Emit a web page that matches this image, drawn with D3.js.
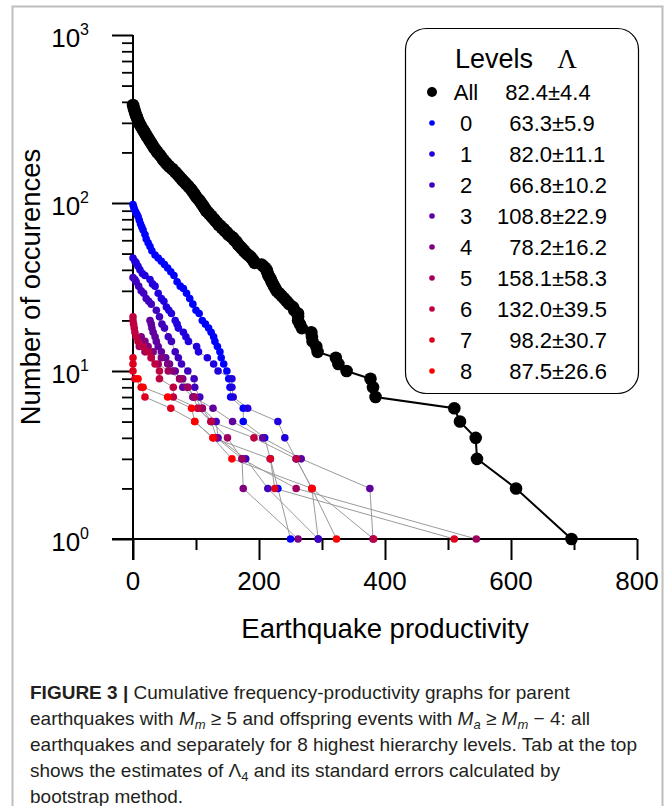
<!DOCTYPE html>
<html>
<head>
<meta charset="utf-8">
<script src="https://cdn.jsdelivr.net/npm/d3@7"></script>
<style>
  body { margin: 0; background: #fff; }
  svg text { font-family: "Liberation Sans", Arial, sans-serif; }
</style>
</head>
<body>
<svg width="671" height="806"></svg>
<script>
// ---- data ----
// "All" earthquakes: [productivity, cumulative count]
var allPoints = [[0,383],[1,370],[2,360],[3,350],[4,340],[5,332],[6,325],[7,317],[8,310],[9,304],[10,298],
  [11,293],[13,285],[14,280],[16,272],[17,268],[19,261],[20,257],[22,250],[23,246],[25,240],[26,236],
  [28,230],[30,224],[32,218],[34,212],[36,207],[38,202],[40,198],[42,194],[44,190],[46,185],[48,181],
  [50,177],[52,174],[54,170],[57,166],[59,163],[62,160],[64,157],[67,153],[69,150],[72,146],[74,143],
  [77,139],[79,136],[82,133],[84,130],[87,127],[89,124],[92,121],[94,118],[97,114],[99,111],[101,108],
  [104,105],[106,103],[108,100],[110,98],[112,95],[114,93],[116,90],[119,88],[121,86],[124,84],[126,82],
  [129,80],[131,78],[134,76],[136,74],[139,73],[141,71],[144,70],[146,68],[149,67],[151,65],[154,64],
  [156,63],[159,62],[161,60],[164,59],[166,57],[168,56],[170,55],[172,54],[174,53],[176,52],[178,51],
  [180,50],[183,49],[186,48],[188,47],[190,46],[192,45],[193,44],[204,43],[207,42],[210,41],[212,40],
  [213,39],[214,38],[215,37],[217,36],[219,35],[220,34],[222,33],[224,32],[226,31],[228,30],[232,29],
  [236,28],[240,27],[244,26],[248,25],[254,24],[256,23],[262,22],[262,21],[262,20],[265,19],[268,18],
  [283,17],[284,16],[285,15],[291,14],[293,13],[322,12],[326,11],[339,10],[377,9],[381,8],[385,7],
  [510,6],[519,5],[544,4],[546,3],[608,2],[696,1]];

// hierarchy levels 0..8: [productivity, cumulative count]
var level0 = [[0,98],[1,95],[2,92],[4,89],[6,86],[8,83],[10,79],[12,75],[14,72],[16,69],[19,65],[21,61],
  [24,58],[27,55],[30,52],[35,49],[40,47],[45,45],[50,43],[55,41],[60,39],[65,37],[70,34],[75,32],[80,31],
  [85,29],[90,27],[95,25],[100,23],[105,22],[110,20],[115,19],[120,18],[124,17],[128,16],[130,15],[134,14],
  [138,13],[140,12],[144,11],[149,10],[152,9],[154,8],[155,7],[175,6],[175,5],[209,4],[218,3],[230,2],[250,1]];
var level1 = [[0,47],[3,45],[5,44],[8,42],[11,40],[15,38],[19,37],[27,35],[31,33],[35,32],[40,29],[45,27],
  [49,26],[53,24],[57,23],[61,22],[67,20],[70,19],[72,18],[80,17],[84,16],[88,15],[101,14],[104,13],
  [118,12],[128,11],[135,10],[157,9],[157,8],[159,7],[182,6],[230,5],[241,4],[259,3],[284,2],[294,1]];
var level2 = [[0,36],[3,35],[5,34],[9,32],[13,30],[17,29],[21,27],[25,26],[29,25],[37,23],[42,21],[46,19],
  [50,18],[56,16],[61,15],[67,13],[72,12],[77,11],[87,10],[97,9],[98,8],[106,7],[110,6],[132,5],[135,4],
  [179,3],[214,2],[294,1]];
var level3 = [[27,20],[29,19],[30,18],[32,17],[35,16],[37,15],[40,14],[45,13],[52,12],[58,11],[67,10],
  [74,9],[79,8],[95,7],[127,6],[158,5],[206,4],[267,3],[376,2],[381,1]];
var level4 = [[13,16],[19,15],[24,14],[32,13],[45,12],[55,11],[63,10],[79,9],[87,8],[96,7],[103,6],
  [124,5],[133,4],[173,3],[175,2],[262,1]];
var level5 = [[10,14],[19,13],[29,12],[40,11],[56,10],[74,9],[87,8],[98,7],[110,6],[124,5],[150,4],
  [173,3],[259,2],[545,1]];
var level6 = [[0,21],[0,20],[1,19],[2,18],[3,17],[5,16],[8,15],[16,14],[24,13],[29,12],[35,11],[42,10],
  [42,9],[64,8],[64,7],[103,6],[124,5],[192,4],[259,3],[284,2],[382,1]];
var level7 = [[0,12],[0,11],[0,10],[3,9],[13,8],[19,7],[60,6],[98,5],[127,4],[218,3],[225,2],[510,1]];
var level8 = [[8,9],[16,8],[55,7],[93,6],[98,5],[127,4],[157,3],[284,2],[323,1]];

var levels = [level0, level1, level2, level3, level4, level5, level6, level7, level8];
var levelNames = ["0", "1", "2", "3", "4", "5", "6", "7", "8"];
var levelColors = ["#0000ff", "#2000df", "#4000bf", "#60009f", "#800080", "#9f0060", "#bf0040", "#df0020", "#ff0000"];

// legend table: Lambda estimates and bootstrap errors
var lambdaAll = 82.4, errAll = 4.4;
var lambdaVals = [63.3, 82.0, 66.8, 108.8, 78.2, 158.1, 132.0, 98.2, 87.5];
var lambdaErrs = [5.9, 11.1, 10.2, 22.9, 16.2, 58.3, 39.5, 30.7, 26.6];

var xTicks = [0, 200, 400, 600, 800];
var xMinorTicks = [100, 300, 500, 700];
var yTicks = [1, 10, 100, 1000];

// ---- layout ----
var svg = d3.select("svg");

var x = d3.scaleLinear().domain([0, 800]).range([133, 637]);
var y = d3.scaleLog().domain([1, 1000]).range([539, 35]);

var majorLen = 21, minorLen = 11;

// figure frame
svg.append("path")
   .attr("d", "M12.5,806 V6.5 H662.5 V806")
   .attr("fill", "none")
   .attr("stroke", "#bdbdbd")
   .attr("stroke-width", 2);

// x axis
var gx = svg.append("g").attr("transform", "translate(0," + y(1) + ")");
gx.call(d3.axisBottom(x).tickValues(xTicks).tickSize(majorLen).tickSizeOuter(0).tickFormat(""));
gx.select(".domain").remove();
gx.selectAll("line").attr("stroke", "black").attr("stroke-width", 2);
var gxm = svg.append("g").attr("transform", "translate(0," + y(1) + ")");
gxm.call(d3.axisBottom(x).tickValues(xMinorTicks).tickSize(minorLen).tickFormat(""));
gxm.select(".domain").remove();
gxm.selectAll("line").attr("stroke", "black").attr("stroke-width", 2);

svg.append("line")
   .attr("x1", x(0) - majorLen).attr("x2", x(800))
   .attr("y1", y(1)).attr("y2", y(1))
   .attr("stroke", "black").attr("stroke-width", 2);

svg.selectAll(".xlab")
   .data(xTicks)
   .enter().append("text")
   .attr("class", "xlab")
   .attr("x", function(d) { return x(d); })
   .attr("y", y(1) + 51)
   .attr("text-anchor", "middle")
   .style("font-size", "26px")
   .text(function(d) { return d; });

svg.append("text")
   .attr("x", (x(0) + x(800)) / 2)
   .attr("y", 638)
   .attr("text-anchor", "middle")
   .style("font-size", "27.5px")
   .text("Earthquake productivity");

// y axis
var yMinor = [];
[1, 10, 100].forEach(function(dec) {
    for (var k = 2; k <= 9; k++) yMinor.push(dec * k);
});

var gy = svg.append("g").attr("transform", "translate(" + x(0) + ",0)");
gy.call(d3.axisLeft(y).tickValues(yTicks).tickSize(majorLen).tickFormat(""));
gy.select(".domain").remove();
gy.selectAll("line").attr("stroke", "black").attr("stroke-width", 2);
var gym = svg.append("g").attr("transform", "translate(" + x(0) + ",0)");
gym.call(d3.axisLeft(y).tickValues(yMinor).tickSize(minorLen).tickFormat(""));
gym.select(".domain").remove();
gym.selectAll("line").attr("stroke", "black").attr("stroke-width", 1.8);

svg.append("line")
   .attr("x1", x(0)).attr("x2", x(0))
   .attr("y1", y(1000)).attr("y2", y(1) + majorLen)
   .attr("stroke", "black").attr("stroke-width", 2);

var ylab = svg.selectAll(".ylab")
   .data(yTicks)
   .enter().append("text")
   .attr("class", "ylab")
   .attr("x", 89)
   .attr("y", function(d) { return y(d) + 12; })
   .attr("text-anchor", "end")
   .style("font-size", "26px");
ylab.append("tspan").text("10");
ylab.append("tspan")
    .attr("dy", -12)
    .style("font-size", "16px")
    .text(function(d) { return Math.round(Math.log10(d)); });

svg.append("text")
   .attr("transform", "translate(40," + ((y(1) + y(1000)) / 2) + ") rotate(-90)")
   .attr("text-anchor", "middle")
   .style("font-size", "27.5px")
   .text("Number of occurences");

// hierarchy level curves: thin grey connectors, then coloured markers
var line = d3.line()
    .x(function(d) { return x(d[0]); })
    .y(function(d) { return y(d[1]); });

levels.forEach(function(pts) {
    svg.append("path")
       .datum(pts)
       .attr("d", line)
       .attr("fill", "none")
       .attr("stroke", "#9a9a9a")
       .attr("stroke-width", 1);
});
levels.forEach(function(pts, i) {
    svg.selectAll(".lv" + i)
       .data(pts)
       .enter().append("circle")
       .attr("class", "lv" + i)
       .attr("cx", function(d) { return x(d[0]); })
       .attr("cy", function(d) { return y(d[1]); })
       .attr("r", 3.8)
       .attr("fill", levelColors[i]);
});

// all earthquakes
svg.append("path")
   .datum(allPoints)
   .attr("d", line)
   .attr("fill", "none")
   .attr("stroke", "black")
   .attr("stroke-width", 2);
svg.selectAll(".allpt")
   .data(allPoints)
   .enter().append("circle")
   .attr("class", "allpt")
   .attr("cx", function(d) { return x(d[0]); })
   .attr("cy", function(d) { return y(d[1]); })
   .attr("r", 6.3)
   .attr("fill", "black");

// legend
var lg = svg.append("g");
lg.append("rect")
  .attr("x", 405.5).attr("y", 28.5)
  .attr("width", 233).attr("height", 365)
  .attr("rx", 21)
  .attr("fill", "white")
  .attr("stroke", "black")
  .attr("stroke-width", 1.2);
lg.append("text")
  .attr("x", 455).attr("y", 68)
  .style("font-size", "27px")
  .text("Levels");
lg.append("text")
  .attr("x", 567).attr("y", 68)
  .attr("text-anchor", "middle")
  .style("font-family", "'Liberation Serif', serif")
  .style("font-size", "27px")
  .text("\u039B");

var rowY = function(i) { return 92 + 31 * i; };
var rows = [{ name: "All", val: lambdaAll, err: errAll, color: "black", r: 5, pm: 548 }];
levelNames.forEach(function(n, i) {
    rows.push({ name: n, val: lambdaVals[i], err: lambdaErrs[i], color: levelColors[i], r: 2.8, pm: 552 });
});

var row = lg.selectAll(".lrow")
   .data(rows)
   .enter().append("g")
   .attr("class", "lrow")
   .attr("transform", function(d, i) { return "translate(0," + rowY(i) + ")"; });
row.append("circle")
   .attr("cx", 432).attr("cy", 0)
   .attr("r", function(d) { return d.r; })
   .attr("fill", function(d) { return d.color; });
row.append("text")
   .attr("x", 466).attr("y", 8)
   .attr("text-anchor", "middle")
   .style("font-size", "22px")
   .text(function(d) { return d.name; });
row.append("text")
   .attr("x", function(d) { return d.pm; }).attr("y", 8)
   .attr("text-anchor", "end")
   .style("font-size", "22px")
   .text(function(d) { return d.val.toFixed(1); });
row.append("text")
   .attr("x", function(d) { return d.pm; }).attr("y", 8)
   .style("font-size", "22px")
   .text(function(d) { return "\u00B1" + d.err.toFixed(1); });

// caption
var cap = svg.append("text")
   .attr("x", 30)
   .style("font-size", "19px")
   .style("fill", "#231f20");
var c1 = cap.append("tspan").attr("x", 30).attr("y", 699);
c1.append("tspan").style("font-weight", "bold").text("FIGURE 3 | ");
c1.append("tspan").text("Cumulative frequency-productivity graphs for parent");

var c2 = cap.append("tspan").attr("x", 30).attr("y", 725);
c2.append("tspan").text("earthquakes with ");
c2.append("tspan").style("font-style", "italic").text("M");
c2.append("tspan").style("font-style", "italic").style("font-size", "13px").attr("dy", 4).text("m");
c2.append("tspan").attr("dy", -4).text(" \u2265 5 and offspring events with ");
c2.append("tspan").style("font-style", "italic").text("M");
c2.append("tspan").style("font-style", "italic").style("font-size", "13px").attr("dy", 4).text("a");
c2.append("tspan").attr("dy", -4).text(" \u2265 ");
c2.append("tspan").style("font-style", "italic").text("M");
c2.append("tspan").style("font-style", "italic").style("font-size", "13px").attr("dy", 4).text("m");
c2.append("tspan").attr("dy", -4).text(" \u2212 4: all");

cap.append("tspan").attr("x", 30).attr("y", 751)
   .text("earthquakes and separately for 8 highest hierarchy levels. Tab at the top");

var c4 = cap.append("tspan").attr("x", 30).attr("y", 777);
c4.append("tspan").text("shows the estimates of \u039B");
c4.append("tspan").style("font-size", "13px").attr("dy", 4).text("4");
c4.append("tspan").attr("dy", -4).text(" and its standard errors calculated by");

cap.append("tspan").attr("x", 30).attr("y", 803).text("bootstrap method.");
</script>
</body>
</html>
